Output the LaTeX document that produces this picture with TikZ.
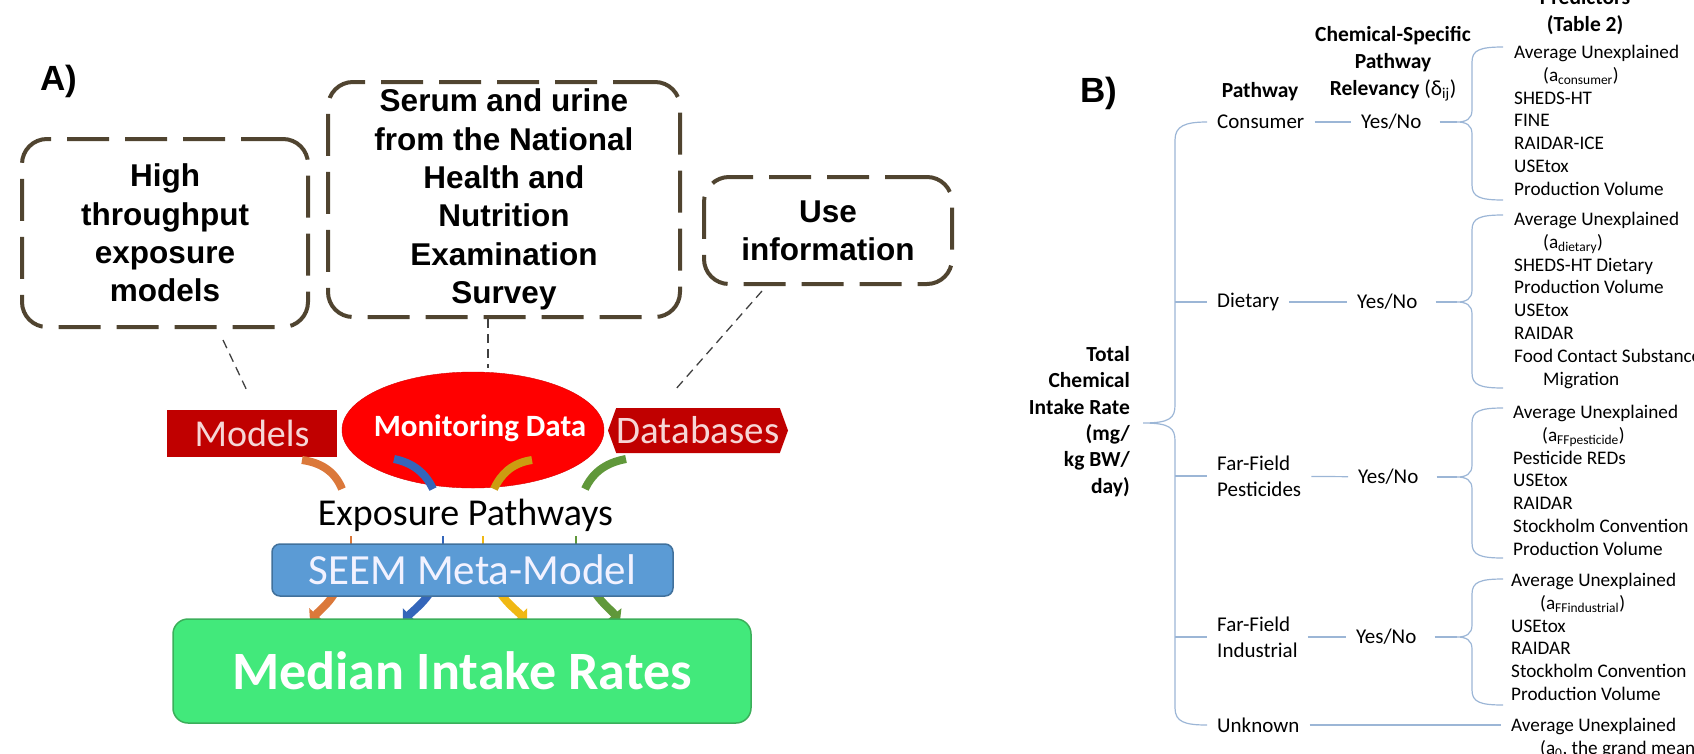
\documentclass[tikz,border=0pt]{standalone}
\usepackage{fontspec}
\setmainfont{Carlito}
\newfontfamily\arialfont{Liberation Sans}
\usetikzlibrary{shapes.geometric, shapes.symbols, arrows.meta}
\definecolor{boxbrown}{RGB}{80,68,48}
\definecolor{darkred}{RGB}{192,0,0}
\definecolor{pinktext}{RGB}{246,214,214}
\definecolor{seemblue}{RGB}{91,155,213}
\definecolor{seemedge}{RGB}{65,113,156}
\definecolor{mirgreen}{RGB}{66,233,123}
\definecolor{miredge}{RGB}{59,175,90}
\definecolor{arrorange}{RGB}{219,120,58}
\definecolor{arrblue}{RGB}{52,102,186}
\definecolor{arryellow}{RGB}{240,184,20}
\definecolor{arrgreen}{RGB}{96,152,58}
\definecolor{brblue}{RGB}{156,182,214}

\begin{document}
\begin{tikzpicture}[x=1pt, y=-1pt,
    dashbox/.style={draw=boxbrown, line width=4pt, dash pattern=on 42pt off 16pt,
      rounded corners=25pt, align=center, inner sep=0pt,
      font=\arialfont\bfseries\fontsize{31.5}{38.3}\selectfont},
    lead/.style={draw=black!75, line width=1.3pt, dash pattern=on 9pt off 6pt},
    plbl/.style={font=\fontsize{21}{26}\selectfont, inner sep=0pt, align=left},
    hdr/.style={font=\bfseries\fontsize{21.5}{27}\selectfont, inner sep=0pt, align=center},
    predlist/.style={font=\fontsize{19.2}{22.9}\selectfont, inner sep=0pt, align=left, anchor=north west},
    link/.style={draw=brblue, line width=1.2pt, shorten <=10pt, shorten >=10pt},
    brline/.style={draw=brblue, line width=1.2pt},
    ribbon/.style={line width=8pt}]
  \useasboundingbox (0,0) rectangle (1694,753);
  \clip (0,0) rectangle (1694,753);

  % A) sources and model chain
  \node[font=\arialfont\bfseries\fontsize{35}{40}\selectfont, anchor=base west, inner sep=0pt] (lbla) at (40,90) {A)};
  \node[dashbox, minimum width=286pt, minimum height=188pt] (hts) at (165,233) {High\\throughput\\exposure\\models};
  \node[dashbox, minimum width=352pt, minimum height=235pt] (serum) at (504,199.5) {Serum and urine\\from the National\\Health and\\Nutrition\\Examination\\Survey};
  \node[dashbox, minimum width=248pt, minimum height=107pt] (usei) at (828,230.5) {Use\\information};

  \node[fill=darkred, text=pinktext, minimum width=170pt, minimum height=47pt, inner sep=0pt,
    font=\fontsize{38}{40}\selectfont] (models) at (252,433.5) {Models};
  \node[ellipse, fill=red, draw=red!85!black, minimum width=262pt, minimum height=116pt, inner sep=0pt] (mon) at (473,430) {};
  \node[text=white, inner sep=0pt, font=\bfseries\fontsize{31}{33}\selectfont] (montxt) at (480,428) {Monitoring Data};
  \node[signal, signal to=east and west, signal pointer angle=140, fill=darkred, text=pinktext,
    minimum width=180pt, minimum height=45pt, inner sep=0pt,
    font=\fontsize{39}{41}\selectfont] (db) at (698,430.5) {Databases};

  \draw[lead] ([xshift=58pt,yshift=-11pt]hts.south) -- ([xshift=-4pt,yshift=17pt]models.north);
  \draw[lead, shorten >=4pt] ([xshift=-16pt]serum.south) -- ([xshift=-16pt]serum.south |- mon.north);
  \draw[lead] (usei.south) ++(-66,5) -- (675,390);

  \draw[ribbon, arrorange] (342,489) .. controls (336,474) and (324,463) .. (302,460);
  \draw[ribbon, arrblue] (433,489) .. controls (426,474) and (414,463) .. (394,459);
  \draw[ribbon, arryellow!85!black] (494,489) .. controls (501,474) and (512,463) .. (532,460);
  \draw[ribbon, arrgreen] (585,489) .. controls (592,474) and (604,463) .. (626,459);

  \node[anchor=base, inner sep=0pt, font=\fontsize{38}{40}\selectfont] (expo) at (465.5,525) {Exposure Pathways};
  \foreach \x/\c in {351/arrorange, 443/arrblue, 483/arryellow, 576/arrgreen}
    \draw[\c, line width=1.5pt] (\x,536) -- (\x,544);

  \draw[ribbon, arrorange, -{Triangle[width=18pt,length=9pt]}] (334,594) .. controls (328,604) and (320,610) .. (310,621);
  \draw[ribbon, arrblue, -{Triangle[width=18pt,length=9pt]}] (429,594) .. controls (422,604) and (414,610) .. (403,621);
  \draw[ribbon, arryellow, -{Triangle[width=18pt,length=9pt]}] (501,594) .. controls (508,604) and (516,610) .. (527,621);
  \draw[ribbon, arrgreen, -{Triangle[width=18pt,length=9pt]}] (596,594) .. controls (603,604) and (611,610) .. (620,621);

  \node[draw=seemedge, fill=seemblue, rounded corners=8pt, line width=1.5pt, minimum width=401pt,
    minimum height=52pt, inner sep=0pt, text=white!95!blue,
    font=\fontsize{43}{45}\selectfont] (seem) at (472.5,570) {SEEM Meta-Model};
  \node[draw=miredge, fill=mirgreen, rounded corners=15pt, line width=1.5pt, minimum width=578pt,
    minimum height=104pt, inner sep=0pt, text=white,
    font=\bfseries\fontsize{54}{56}\selectfont] (mir) at (462,671) {Median Intake Rates};

  % B) pathway tree
  \node[font=\arialfont\bfseries\fontsize{35}{40}\selectfont, anchor=base west, inner sep=0pt] (lblb) at (1080,102) {B)};
  \node[hdr] (hdpath) at (1260,92) {Pathway};
  \node[hdr] (hdrel) at (1393,64) {Chemical-Specific\\Pathway\\Relevancy {\mdseries(δ\textsubscript{ij})}};
  \node[hdr] (hdpred) at (1585,12.5) {Predictors\\(Table 2)};
  \node[hdr, align=right, anchor=east, font=\bfseries\fontsize{21.5}{26.3}\selectfont] (total) at (1130,421.5)
    {Total\\Chemical\\Intake Rate\\(mg/\\kg BW/\\day)};

  \node[plbl, anchor=west] (cons) at (1217,122) {Consumer};
  \node[plbl, anchor=west] (diet) at (1217,302) {Dietary};
  \node[plbl, anchor=west] (pest) at (1217,476) {Far-Field\\Pesticides};
  \node[plbl, anchor=west] (indu) at (1217,637) {Far-Field\\Industrial};
  \node[plbl, anchor=west] (unkn) at (1217,725) {Unknown};

  \node[plbl, anchor=west] (yes1) at (1361,122) {Yes/No};
  \node[plbl, anchor=west] (yes2) at (1357,302) {Yes/No};
  \node[plbl, anchor=west] (yes3) at (1358,477) {Yes/No};
  \node[plbl, anchor=west] (yes4) at (1356,637) {Yes/No};

  \node[predlist] (list1) at (1514,44.7) {Average Unexplained\\\hspace*{29pt}(a\textsubscript{consumer})\\SHEDS-HT\\FINE\\RAIDAR-ICE\\USEtox\\Production Volume};
  \node[predlist] (list2) at (1514,211.7) {Average Unexplained\\\hspace*{29pt}(a\textsubscript{dietary})\\SHEDS-HT Dietary\\Production Volume\\USEtox\\RAIDAR\\Food Contact Substance\\\hspace*{29pt}Migration};
  \node[predlist] (list3) at (1513,404.7) {Average Unexplained\\\hspace*{29pt}(a\textsubscript{FFpesticide})\\Pesticide REDs\\USEtox\\RAIDAR\\Stockholm Convention\\Production Volume};
  \node[predlist] (list4) at (1511,572.7) {Average Unexplained\\\hspace*{29pt}(a\textsubscript{FFindustrial})\\USEtox\\RAIDAR\\Stockholm Convention\\Production Volume};
  \node[predlist] (list5) at (1511,717.7) {Average Unexplained\\\hspace*{29pt}(a\textsubscript{0}, the grand mean)};

  \draw[brline] (1207,122) .. controls (1185,122) and (1175,126) .. (1175,140) -- (1175,405)
    .. controls (1175,418) and (1170,423) .. (1143,423) .. controls (1170,423) and (1175,428) .. (1175,441)
    -- (1175,708) .. controls (1175,722) and (1185,725) .. (1207,725);
  \draw[brline, shorten >=10pt] (1175,302) -- (diet);
  \draw[brline, shorten >=10pt] (1175,476) -- (pest);
  \draw[brline, shorten >=10pt] (1175,637) -- (indu);

  \draw[link] (cons) -- (yes1);
  \draw[link] (diet) -- (yes2);
  \draw[link] (pest) -- (yes3);
  \draw[link] (indu) -- (yes4);
  \draw[link] (unkn) -- (unkn -| list5.west);

  \foreach \n/\yt/\ym/\yb in {1/47/122/200, 2/215/302/388, 3/408/477/558, 4/579/637/705} {
    \coordinate (tip\n) at (1457,\ym);
    \draw[brline, shorten <=18pt] (yes\n) -- (tip\n);
    \draw[brline] (1503,\yt) .. controls (1480,\yt) and (1472,\yt+3) .. (1472,\yt+15) -- (1472,\ym-12)
      .. controls (1472,\ym-3) and (1466,\ym) .. (tip\n) .. controls (1466,\ym) and (1472,\ym+3) .. (1472,\ym+12)
      -- (1472,\yb-15) .. controls (1472,\yb-3) and (1480,\yb) .. (1503,\yb);
  }
\end{tikzpicture}
\end{document}
